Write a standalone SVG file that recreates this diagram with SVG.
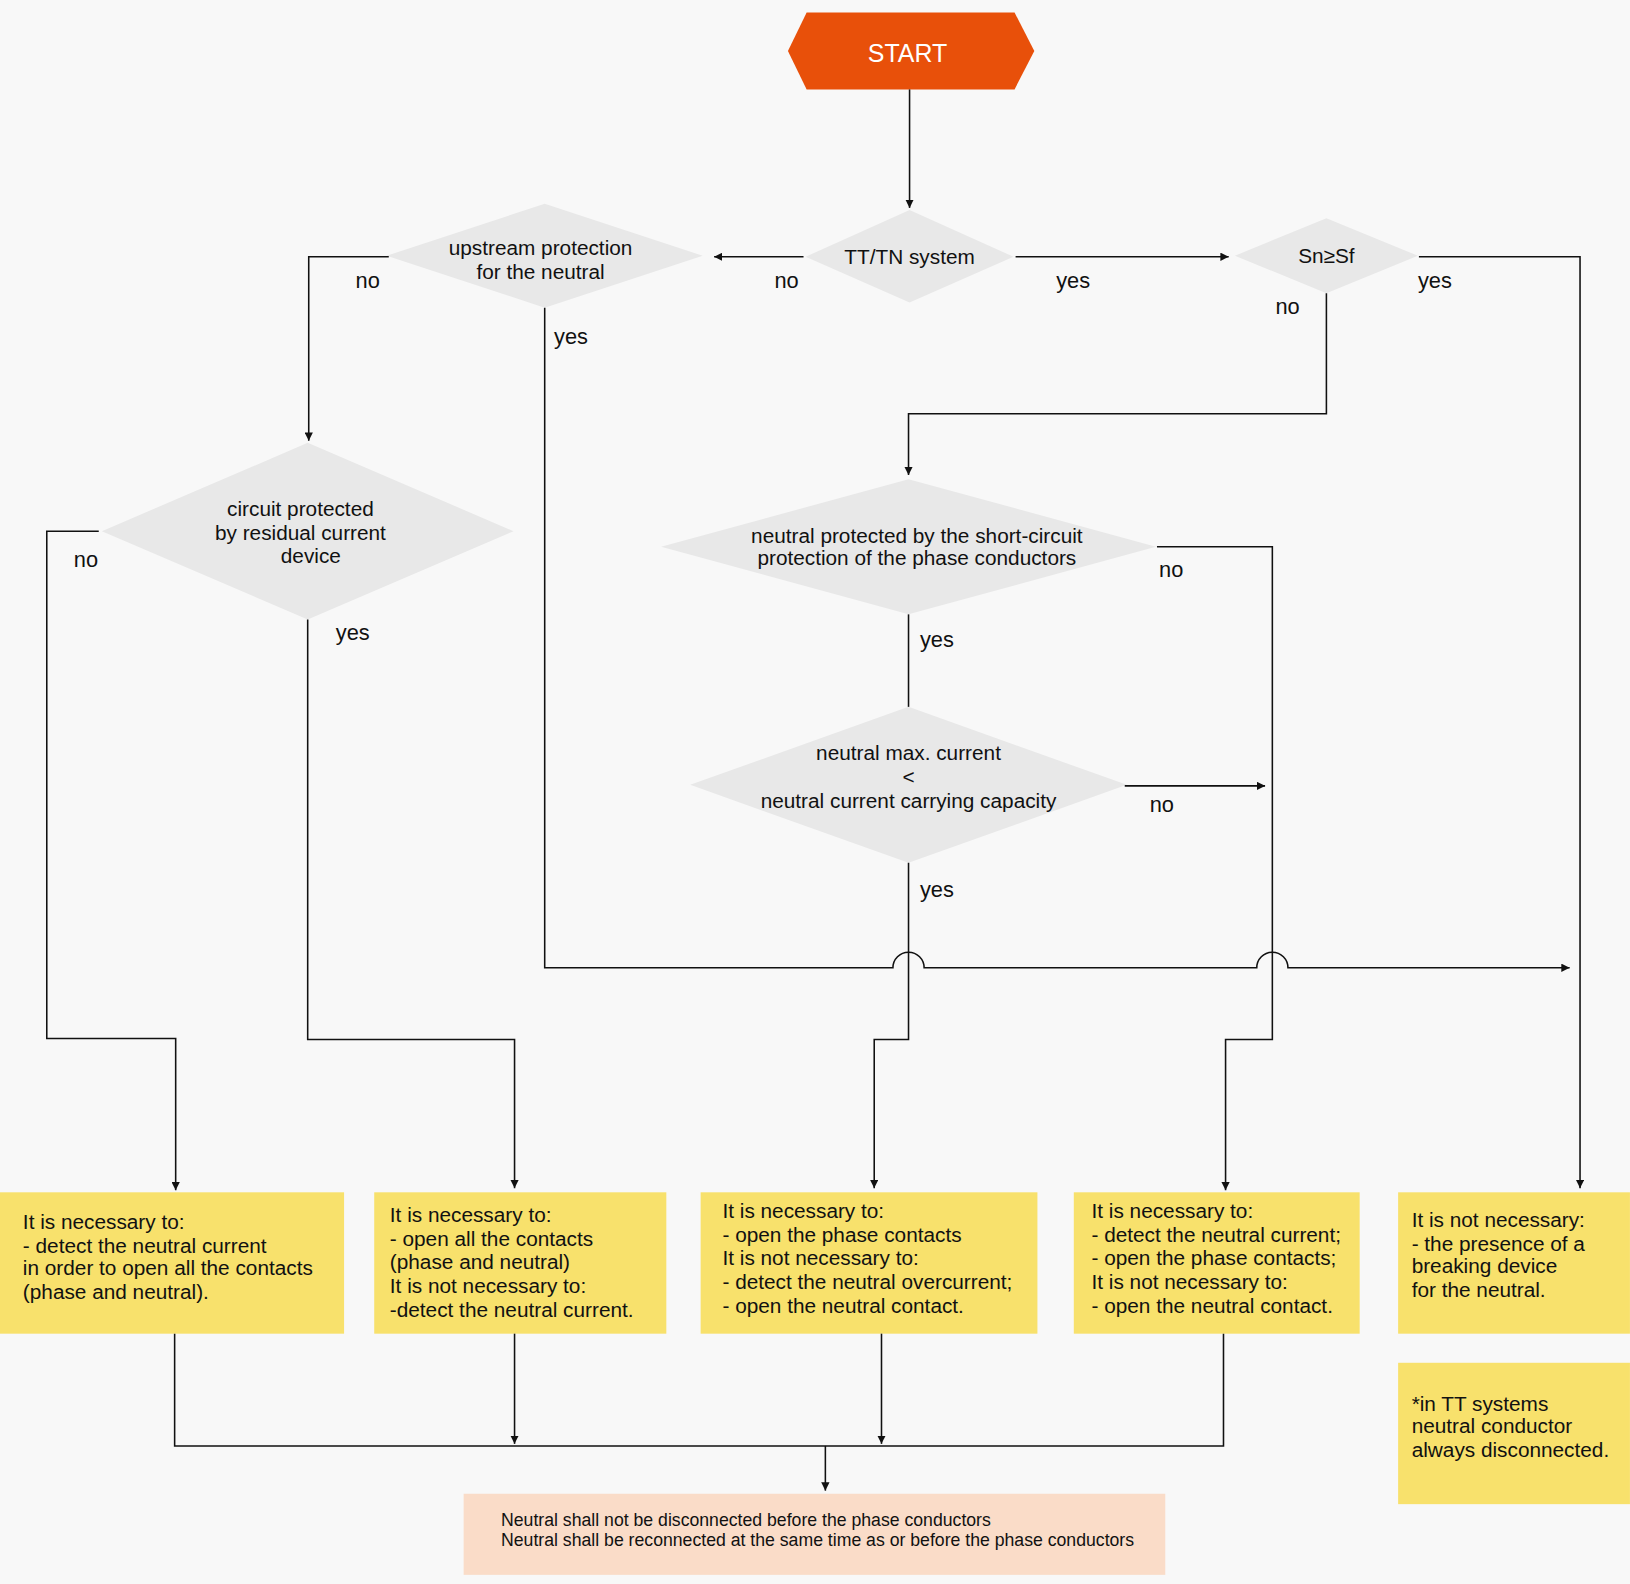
<svg xmlns="http://www.w3.org/2000/svg" width="1630" height="1584" viewBox="0 0 1630 1584">
<style>
text{font-family:"Liberation Sans",Arial,sans-serif;fill:#111}
.d{fill:#e8e8e8}
.b{fill:#f8e16c}
.t{font-size:20px}
.c{font-size:20px;text-anchor:middle}
.l{font-size:21px}
.w{fill:none;stroke:#111;stroke-width:1.5}
</style>
<defs><marker id="a" viewBox="0 0 10 10" refX="10" refY="5" markerWidth="8" markerHeight="8" markerUnits="userSpaceOnUse" orient="auto"><path d="M0,0L10,5L0,10z" fill="#111"/></marker></defs>
<rect width="1630" height="1584" fill="#f8f8f8"/>
<g transform="scale(1.0395)">
<g id="start"><polygon points="758,49 776,12 976,12 995,49 976,86 776,86" fill="#e8500a"/><text x="873" y="60" style="font-size:24px;fill:#fff;text-anchor:middle">START</text></g>
<g id="ttn"><polygon class="d" points="775,247 875,202 975,247 875,291"/><text class="c" x="875" y="254">TT/TN system</text></g>
<g id="upstream"><polygon class="d" points="372,246 524,196 676,246 524,296"/><text class="c" x="520" y="245">upstream protection</text><text class="c" x="520" y="268">for the neutral</text></g>
<g id="snsf"><polygon class="d" points="1188,246 1276,210 1364,246 1276,282"/><text class="c" x="1276" y="253">Sn≥Sf</text></g>
<g id="rcd"><polygon class="d" points="98,511 296,426 494,511 296,596"/><text class="c" x="289" y="496">circuit protected</text><text class="c" x="289" y="519">by residual current</text><text class="c" x="299" y="542">device</text></g>
<g id="shortcircuit"><polygon class="d" points="636,526 874,461 1112,526 874,591"/><text class="c" x="882" y="522">neutral protected by the short-circuit</text><text class="c" x="882" y="544">protection of the phase conductors</text></g>
<g id="maxcurrent"><polygon class="d" points="664,755 874,680 1084,755 874,830"/><text class="c" x="874" y="731">neutral max. current</text><text class="c" x="874" y="754">&lt;</text><text class="c" x="874" y="777">neutral current carrying capacity</text></g>
<g id="box1"><rect class="b" x="0" y="1147" width="331" height="136"/><text class="t" x="22" y="1182">It is necessary to:</text><text class="t" x="22" y="1205">- detect the neutral current</text><text class="t" x="22" y="1227">in order to open all the contacts</text><text class="t" x="22" y="1250">(phase and neutral).</text></g>
<g id="box2"><rect class="b" x="360" y="1147" width="281" height="136"/><text class="t" x="375" y="1176">It is necessary to:</text><text class="t" x="375" y="1199">- open all the contacts</text><text class="t" x="375" y="1221">(phase and neutral)</text><text class="t" x="375" y="1244">It is not necessary to:</text><text class="t" x="375" y="1267">-detect the neutral current.</text></g>
<g id="box3"><rect class="b" x="674" y="1147" width="324" height="136"/><text class="t" x="695" y="1172">It is necessary to:</text><text class="t" x="695" y="1195">- open the phase contacts</text><text class="t" x="695" y="1217">It is not necessary to:</text><text class="t" x="695" y="1240">- detect the neutral overcurrent;</text><text class="t" x="695" y="1263">- open the neutral contact.</text></g>
<g id="box4"><rect class="b" x="1033" y="1147" width="275" height="136"/><text class="t" x="1050" y="1172">It is necessary to:</text><text class="t" x="1050" y="1195">- detect the neutral current;</text><text class="t" x="1050" y="1217">- open the phase contacts;</text><text class="t" x="1050" y="1240">It is not necessary to:</text><text class="t" x="1050" y="1263">- open the neutral contact.</text></g>
<g id="box5"><rect class="b" x="1345" y="1147" width="223" height="136"/><text class="t" x="1358" y="1180">It is not necessary:</text><text class="t" x="1358" y="1203">- the presence of a</text><text class="t" x="1358" y="1225">breaking device</text><text class="t" x="1358" y="1248">for the neutral.</text></g>
<g id="note"><rect class="b" x="1345" y="1311" width="223" height="136"/><text class="t" x="1358" y="1357">*in TT systems</text><text class="t" x="1358" y="1379">neutral conductor</text><text class="t" x="1358" y="1402">always disconnected.</text></g>
<g id="final"><rect x="446" y="1437" width="675" height="78" fill="#fadcc8"/><text x="482" y="1468" style="font-size:17px">Neutral shall not be disconnected before the phase conductors</text><text x="482" y="1487" style="font-size:17px">Neutral shall be reconnected at the same time as or before the phase conductors</text></g>
<g id="connectors">
<path class="w" marker-end="url(#a)" d="M875,86V200"/>
<path class="w" marker-end="url(#a)" d="M773,247H687"/>
<path class="w" marker-end="url(#a)" d="M977,247H1182"/>
<path class="w" marker-end="url(#a)" d="M1365,247H1520V1143"/>
<path class="w" marker-end="url(#a)" d="M1276,282V398H874V457"/>
<path class="w" marker-end="url(#a)" d="M374,247H297V424"/>
<path class="w" marker-end="url(#a)" d="M524,296V931H859A15,15 0 0 1 889,931H1209A15,15 0 0 1 1239,931H1510"/>
<path class="w" marker-end="url(#a)" d="M95,511H45V999H169V1145"/>
<path class="w" marker-end="url(#a)" d="M296,596V1000H495V1143"/>
<path class="w" marker-end="url(#a)" d="M1113,526H1224V1000H1179V1145"/>
<path class="w" d="M874,591V680"/>
<path class="w" marker-end="url(#a)" d="M1082,756H1217"/>
<path class="w" marker-end="url(#a)" d="M874,830V1000H841V1143"/>
<path class="w" d="M168,1283V1391H1177V1283"/>
<path class="w" marker-end="url(#a)" d="M495,1283V1389"/>
<path class="w" marker-end="url(#a)" d="M848,1283V1389"/>
<path class="w" marker-end="url(#a)" d="M794,1391V1434"/>
<text class="l" x="745" y="277">no</text><text class="l" x="1016" y="277">yes</text>
<text class="l" x="342" y="277">no</text><text class="l" x="533" y="331">yes</text>
<text class="l" x="1364" y="277">yes</text><text class="l" x="1227" y="302">no</text>
<text class="l" x="71" y="545">no</text><text class="l" x="323" y="616">yes</text>
<text class="l" x="1115" y="555">no</text><text class="l" x="885" y="622">yes</text>
<text class="l" x="1106" y="781">no</text><text class="l" x="885" y="863">yes</text>
</g>
</g>
</svg>
